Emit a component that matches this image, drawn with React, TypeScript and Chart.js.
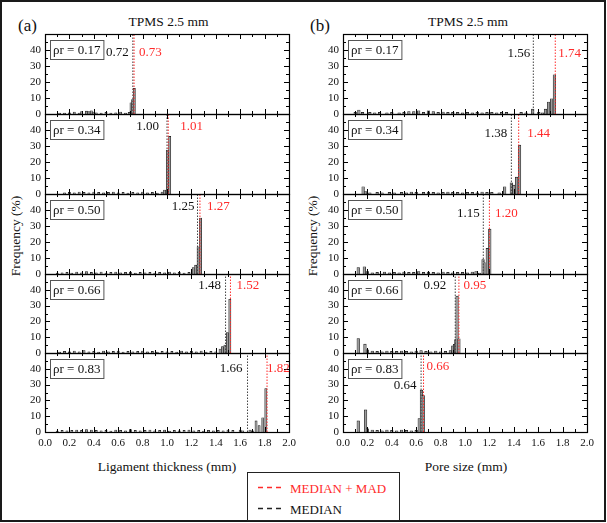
import React, { useEffect, useRef } from 'react';
import { Chart, registerables } from 'chart.js';

Chart.register(...registerables);

const SERIF = "'Liberation Serif', 'DejaVu Serif', serif";

// ---------------- data ----------------
const densityLabels = ['0.17', '0.34', '0.50', '0.66', '0.83'];
const ligamentMedian = [0.72, 1.0, 1.25, 1.48, 1.66];
const ligamentMedianMad = [0.73, 1.01, 1.27, 1.52, 1.82];
const poreMedian = [1.56, 1.38, 1.15, 0.92, 0.64];
const poreMedianMad = [1.74, 1.44, 1.2, 0.95, 0.66];
const xTickValues = [0, 0.2, 0.4, 0.6, 0.8, 1.0, 1.2, 1.4, 1.6, 1.8, 2.0];
const yTickValues = [0, 10, 20, 30, 40];

// Ligament thickness histograms (bin centre, mm / frequency, %)
const lig017X = [0.12, 0.16, 0.2, 0.24, 0.28, 0.3, 0.34, 0.36, 0.38, 0.4, 0.42, 0.46, 0.5, 0.54, 0.58, 0.62, 0.66, 0.69, 0.705, 0.718, 0.732];
const lig017Y = [0.6, 0.5, 0.8, 1.2, 0.6, 1.5, 1.8, 1.5, 2.0, 1.2, 0.8, 0.6, 1.0, 0.5, 0.8, 1.2, 0.6, 1.0, 7, 9, 16];

const lig034X = [0.16, 0.2, 0.24, 0.28, 0.32, 0.36, 0.4, 0.44, 0.48, 0.52, 0.56, 0.6, 0.64, 0.68, 0.72, 0.76, 0.8, 0.84, 0.88, 0.92, 0.96, 0.98, 1.003, 1.022];
const lig034Y = [0.8, 1.0, 0.8, 1.2, 1.0, 0.8, 1.2, 1.0, 0.8, 1.0, 1.2, 0.8, 1.0, 0.6, 1.0, 0.8, 1.2, 0.8, 1.0, 0.6, 1.2, 2.5, 27.5, 36];

const lig050X = [0.1, 0.14, 0.18, 0.22, 0.26, 0.3, 0.34, 0.38, 0.42, 0.46, 0.5, 0.54, 0.58, 0.62, 0.66, 0.7, 0.74, 0.78, 0.82, 0.86, 0.9, 0.94, 0.98, 1.02, 1.06, 1.1, 1.14, 1.18, 1.215, 1.235, 1.255, 1.275];
const lig050Y = [0.6, 0.8, 1.0, 0.6, 1.2, 0.8, 1.5, 1.0, 0.8, 1.2, 0.6, 1.0, 1.2, 0.8, 1.0, 1.2, 0.6, 1.0, 0.8, 1.0, 0.6, 1.0, 0.8, 1.2, 0.8, 1.0, 0.6, 1.0, 4, 5.5, 17, 35];

const lig066X = [0.12, 0.16, 0.2, 0.24, 0.28, 0.32, 0.36, 0.4, 0.44, 0.48, 0.52, 0.56, 0.6, 0.64, 0.68, 0.72, 0.76, 0.8, 0.84, 0.88, 0.92, 0.96, 1.0, 1.04, 1.08, 1.12, 1.16, 1.2, 1.24, 1.28, 1.32, 1.36, 1.4, 1.435, 1.455, 1.475, 1.495, 1.515];
const lig066Y = [0.6, 1.0, 0.8, 1.2, 0.8, 1.5, 0.8, 1.0, 0.6, 1.2, 0.8, 1.0, 1.2, 0.6, 1.0, 0.8, 1.0, 1.2, 0.8, 1.0, 0.6, 1.0, 0.8, 1.0, 0.6, 1.2, 0.8, 1.0, 0.8, 1.2, 0.6, 1.0, 0.8, 2.5, 4, 5, 13, 34];

const lig083X = [0.1, 0.14, 0.18, 0.22, 0.26, 0.3, 0.34, 0.38, 0.42, 0.46, 0.5, 0.54, 0.58, 0.62, 0.66, 0.7, 0.74, 0.78, 0.82, 0.86, 0.9, 0.94, 0.98, 1.02, 1.06, 1.1, 1.14, 1.18, 1.22, 1.26, 1.3, 1.34, 1.38, 1.42, 1.46, 1.5, 1.54, 1.6, 1.62, 1.68, 1.7, 1.73, 1.755, 1.785, 1.81];
const lig083Y = [0.6, 1.0, 0.8, 1.0, 1.2, 1.0, 1.5, 1.2, 1.0, 0.8, 1.0, 0.6, 1.2, 1.0, 0.8, 1.5, 1.0, 0.8, 1.0, 1.2, 0.8, 1.0, 1.2, 0.6, 1.0, 0.8, 1.0, 1.2, 0.8, 1.0, 0.6, 1.0, 0.8, 1.0, 0.8, 1.2, 1.0, 1.2, 0.8, 1.2, 0.8, 7, 4, 9, 27.5];

// Pore size histograms
const pore017X = [0.1, 0.13, 0.16, 0.22, 0.26, 0.3, 0.36, 0.4, 0.46, 0.5, 0.54, 0.58, 0.62, 0.66, 0.7, 0.74, 0.78, 0.82, 0.86, 0.9, 0.94, 0.98, 1.02, 1.06, 1.1, 1.14, 1.18, 1.22, 1.26, 1.3, 1.34, 1.46, 1.5, 1.555, 1.605, 1.635, 1.66, 1.685, 1.71, 1.733];
const pore017Y = [1.0, 2.5, 1.0, 1.0, 0.8, 1.0, 0.8, 1.0, 0.8, 1.0, 1.5, 1.5, 2.0, 1.0, 2.0, 1.5, 1.0, 1.2, 1.0, 1.0, 1.0, 0.8, 1.0, 0.8, 1.0, 0.8, 1.0, 1.0, 0.8, 1.0, 1.0, 1.0, 0.8, 3, 1, 0.7, 3, 7.5, 9.5, 24.5];

const pore034X = [0.165, 0.185, 0.22, 0.28, 0.32, 0.38, 0.42, 0.48, 0.52, 0.56, 0.6, 0.66, 0.7, 0.74, 0.78, 0.82, 0.86, 0.9, 0.94, 0.98, 1.02, 1.06, 1.1, 1.14, 1.18, 1.22, 1.28, 1.325, 1.38, 1.4, 1.423, 1.447];
const pore034Y = [4.5, 1.5, 0.8, 1.0, 0.8, 1.0, 0.8, 1.0, 0.8, 1.2, 1.0, 1.0, 1.2, 1.0, 0.8, 1.0, 1.2, 1.0, 1.0, 0.8, 1.0, 1.0, 0.8, 1.2, 1.0, 1.0, 0.8, 4.5, 7, 5.5, 10.5, 30.5];

const pore050X = [0.125, 0.175, 0.2, 0.24, 0.28, 0.34, 0.38, 0.42, 0.46, 0.5, 0.54, 0.58, 0.62, 0.66, 0.7, 0.74, 0.78, 0.82, 0.86, 0.9, 0.94, 0.98, 1.02, 1.06, 1.09, 1.12, 1.148, 1.165, 1.183, 1.203];
const pore050Y = [4, 4.5, 1.5, 0.8, 1.0, 1.2, 0.8, 1.0, 0.8, 1.2, 1.0, 1.0, 1.5, 1.0, 1.2, 1.0, 0.8, 1.2, 1.0, 0.8, 1.0, 1.0, 0.8, 1.2, 1.5, 0.6, 9, 7, 16, 28];

const pore066X = [0.125, 0.18, 0.2, 0.24, 0.28, 0.32, 0.36, 0.4, 0.44, 0.48, 0.52, 0.56, 0.6, 0.64, 0.68, 0.72, 0.76, 0.8, 0.84, 0.88, 0.9, 0.915, 0.925, 0.935, 0.95];
const pore066Y = [9.2, 5.6, 2, 1.2, 1.0, 0.8, 1.2, 1.0, 1.0, 1.2, 1.0, 0.8, 1.2, 1.5, 1.0, 0.8, 1.2, 0.8, 1.0, 1.5, 4.5, 5.5, 8.5, 36, 9];

const pore083X = [0.125, 0.185, 0.2, 0.24, 0.28, 0.32, 0.36, 0.4, 0.44, 0.48, 0.52, 0.56, 0.6, 0.625, 0.643, 0.658];
const pore083Y = [7, 14, 2, 1.2, 1.0, 0.8, 1.2, 1.0, 0.8, 1.2, 1.0, 0.8, 1.0, 8.5, 26.5, 23];

const ligamentX = [lig017X, lig034X, lig050X, lig066X, lig083X];
const ligamentY = [lig017Y, lig034Y, lig050Y, lig066Y, lig083Y];
const poreX = [pore017X, pore034X, pore050X, pore066X, pore083X];
const poreY = [pore017Y, pore034Y, pore050Y, pore066Y, pore083Y];

// ---------------- layout (pixels) ----------------
const PLOT_LEFT = [45, 343];
const PLOT_W = 244;
const ROW_EDGES = [34, 114, 194, 274, 353, 432];
const AXIS_W = 34;
const PAD_R = 14;
const PAD_T = 6;
const PAD_B = 6;
const XAXIS_H = 20;

// value-label placement: gap left of median line, gap right of MAD line, text centre offsets from plot top
const LABEL_POS = [
  [
    { bg: 4, rg: 5, bt: 19, rt: 19 },
    { bg: 8, rg: 12, bt: 12.5, rt: 12.5 },
    { bg: 3, rg: 7, bt: 12.5, rt: 12.5 },
    { bg: 4.5, rg: 6, bt: 12, rt: 12 },
    { bg: 5, rg: 0, bt: 15.5, rt: 15.5 },
  ],
  [
    { bg: 3, rg: 3, bt: 20, rt: 20 },
    { bg: 4, rg: 8.5, bt: 20, rt: 20 },
    { bg: 3.5, rg: 5.5, bt: 20, rt: 20 },
    { bg: 9, rg: 4.5, bt: 12, rt: 12 },
    { bg: 4.5, rg: 3, bt: 33, rt: 14 },
  ],
];

const RED = '#ff2b2b';

function Panel({ col, row }: { col: number; row: number }) {
  const ref = useRef<HTMLCanvasElement | null>(null);
  const isBottom = row === 4;
  const top = ROW_EDGES[row];
  const h = ROW_EDGES[row + 1] - top;
  const left = PLOT_LEFT[col] - AXIS_W;
  const cw = AXIS_W + PLOT_W + PAD_R;
  const ch = PAD_T + h + (isBottom ? XAXIS_H : 0) + PAD_B;

  useEffect(() => {
    const xs = col === 0 ? ligamentX[row] : poreX[row];
    const ys = col === 0 ? ligamentY[row] : poreY[row];
    const med = col === 0 ? ligamentMedian[row] : poreMedian[row];
    const mad = col === 0 ? ligamentMedianMad[row] : poreMedianMad[row];
    const lp = LABEL_POS[col][row];
    const rho = densityLabels[row];

    const decor = {
      id: 'decor',
      afterDraw(chart: any) {
        const { ctx, chartArea: a, scales } = chart;
        const sx = scales.x;
        const sy = scales.y;
        ctx.save();
        ctx.strokeStyle = '#000';
        ctx.lineWidth = 1.2;
        ctx.strokeRect(a.left + 0.5, a.top + 0.5, a.right - a.left, a.bottom - a.top);
        ctx.lineWidth = 1;
        ctx.beginPath();
        for (let i = 0; i <= 20; i++) {
          const px = Math.round(sx.getPixelForValue(i / 10)) + 0.5;
          const len = i % 2 === 0 ? 5 : 3;
          ctx.moveTo(px, a.bottom);
          ctx.lineTo(px, a.bottom - len);
          ctx.moveTo(px, a.top);
          ctx.lineTo(px, a.top + len);
        }
        for (let j = 0; j <= 10; j++) {
          const py = Math.round(sy.getPixelForValue(j * 5)) + 0.5;
          const len = j % 2 === 0 ? 5 : 3;
          ctx.moveTo(a.left, py);
          ctx.lineTo(a.left + len, py);
          ctx.moveTo(a.right, py);
          ctx.lineTo(a.right - len, py);
        }
        ctx.stroke();
        ctx.font = `13px ${SERIF}`;
        const txt = `ρr = ${rho}`;
        const tw = ctx.measureText(txt).width;
        ctx.fillStyle = '#fff';
        ctx.fillRect(a.left + 5, a.top + 6, tw + 6, 19);
        ctx.strokeStyle = '#555';
        ctx.lineWidth = 1;
        ctx.strokeRect(a.left + 5.5, a.top + 6.5, tw + 6, 19);
        ctx.fillStyle = '#111';
        ctx.textBaseline = 'middle';
        ctx.textAlign = 'left';
        ctx.fillText(txt, a.left + 8, a.top + 16.5);
        const mx = sx.getPixelForValue(med);
        const rx = sx.getPixelForValue(mad);
        ctx.textAlign = 'right';
        ctx.fillStyle = '#111';
        ctx.fillText(med.toFixed(2), mx - lp.bg, a.top + lp.bt);
        ctx.textAlign = 'left';
        ctx.fillStyle = RED;
        ctx.fillText(mad.toFixed(2), rx + lp.rg, a.top + lp.rt);
        ctx.restore();
      },
    };

    const chart = new Chart(ref.current as HTMLCanvasElement, {
      type: 'bar',
      data: {
        datasets: [
          {
            type: 'bar',
            data: xs.map((x, i) => ({ x, y: ys[i] })),
            backgroundColor: '#9c9c9c',
            borderColor: '#111',
            borderWidth: 0.6,
            barThickness: col === 0 ? 2.2 : 2.6,
            grouped: false,
            order: 3,
          } as any,
          {
            type: 'line',
            data: [
              { x: med, y: 0 },
              { x: med, y: 50 },
            ],
            borderColor: '#444',
            borderWidth: 1,
            borderDash: [1.5, 1.5],
            pointRadius: 0,
            order: 2,
          } as any,
          {
            type: 'line',
            data: [
              { x: mad, y: 0 },
              { x: mad, y: 50 },
            ],
            borderColor: RED,
            borderWidth: 1,
            borderDash: [1.5, 1.5],
            pointRadius: 0,
            order: 1,
          } as any,
        ],
      },
      options: {
        responsive: false,
        animation: false,
        devicePixelRatio: 1,
        events: [],
        layout: { autoPadding: false, padding: { left: 0, right: PAD_R, top: PAD_T, bottom: PAD_B } },
        plugins: { legend: { display: false }, tooltip: { enabled: false } },
        scales: {
          x: {
            type: 'linear',
            min: 0,
            max: 2,
            offset: false,
            grid: { display: false, drawTicks: false },
            border: { display: false },
            afterBuildTicks: (s: any) => {
              s.ticks = xTickValues.map((v) => ({ value: v }));
            },
            ticks: {
              display: isBottom,
              autoSkip: false,
              maxRotation: 0,
              padding: 5,
              color: '#111',
              font: { family: SERIF, size: 11 },
              callback: (v: any) => Number(v).toFixed(1),
            },
            afterFit: (s: any) => {
              s.height = isBottom ? XAXIS_H : 0;
              s.paddingLeft = 0;
              s.paddingRight = 0;
            },
          },
          y: {
            min: 0,
            max: 50,
            grid: { display: false, drawTicks: false },
            border: { display: false },
            afterBuildTicks: (s: any) => {
              s.ticks = yTickValues.map((v) => ({ value: v }));
            },
            ticks: {
              padding: 4,
              color: '#111',
              font: { family: SERIF, size: 11 },
              callback: (v: any) => String(v),
            },
            afterFit: (s: any) => {
              s.width = AXIS_W;
              s.paddingTop = 0;
              s.paddingBottom = 0;
            },
          },
        } as any,
      },
      plugins: [decor],
    } as any);
    return () => chart.destroy();
  }, [col, row]);

  return (
    <canvas
      ref={ref}
      width={cw}
      height={ch}
      style={{ position: 'absolute', left, top: top - PAD_T, width: cw, height: ch }}
    />
  );
}

function Txt({
  x,
  y,
  size,
  color = '#111',
  rotate = false,
  align = 'center',
  children,
}: {
  x: number;
  y: number;
  size: number;
  color?: string;
  rotate?: boolean;
  align?: 'center' | 'left';
  children: React.ReactNode;
}) {
  const tx = align === 'center' ? '-50%' : '0';
  return (
    <div
      style={{
        position: 'absolute',
        left: x,
        top: y,
        transform: `translate(${tx},-50%)${rotate ? ' rotate(-90deg)' : ''}`,
        fontFamily: SERIF,
        fontSize: size,
        color,
        whiteSpace: 'nowrap',
        lineHeight: 1,
      }}
    >
      {children}
    </div>
  );
}

export default function App() {
  const rows = [0, 1, 2, 3, 4];
  return (
    <div
      style={{
        position: 'fixed',
        left: 0,
        top: 0,
        width: 607,
        height: 523,
        background: '#fff',
        overflow: 'hidden',
      }}
    >
      <div
        style={{
          position: 'absolute',
          left: 0,
          top: 0,
          width: 606,
          height: 522,
          border: '2px solid #1a1a1a',
          boxSizing: 'border-box',
        }}
      />
      <Txt x={27.5} y={25} size={17}>(a)</Txt>
      <Txt x={320} y={25} size={17}>(b)</Txt>
      <Txt x={168.5} y={22} size={13.5}>TPMS 2.5 mm</Txt>
      <Txt x={468} y={22} size={13.5}>TPMS 2.5 mm</Txt>
      <Txt x={15.5} y={236} size={13.5} rotate>Frequency (%)</Txt>
      <Txt x={313} y={236} size={13.5} rotate>Frequency (%)</Txt>
      <Txt x={167} y={467} size={13.5}>Ligament thickness (mm)</Txt>
      <Txt x={466} y={467} size={13.5}>Pore size (mm)</Txt>
      {rows.map((r) => (
        <Panel key={`a${r}`} col={0} row={r} />
      ))}
      {rows.map((r) => (
        <Panel key={`b${r}`} col={1} row={r} />
      ))}
      <div
        style={{
          position: 'absolute',
          left: 247,
          top: 472,
          width: 153,
          height: 49,
          border: '1.2px solid #222',
          boxSizing: 'border-box',
          background: '#fff',
        }}
      />
      <svg style={{ position: 'absolute', left: 256, top: 480 }} width={30} height={34}>
        <line x1={2} y1={7.5} x2={27} y2={7.5} stroke={RED} strokeWidth={1.5} strokeDasharray="5,4" />
        <line x1={2} y1={28.5} x2={27} y2={28.5} stroke="#222" strokeWidth={1.5} strokeDasharray="5,4" />
      </svg>
      <Txt x={290} y={487.5} size={13} color={RED} align="left">MEDIAN + MAD</Txt>
      <Txt x={290} y={508.5} size={13} align="left">MEDIAN</Txt>
    </div>
  );
}
